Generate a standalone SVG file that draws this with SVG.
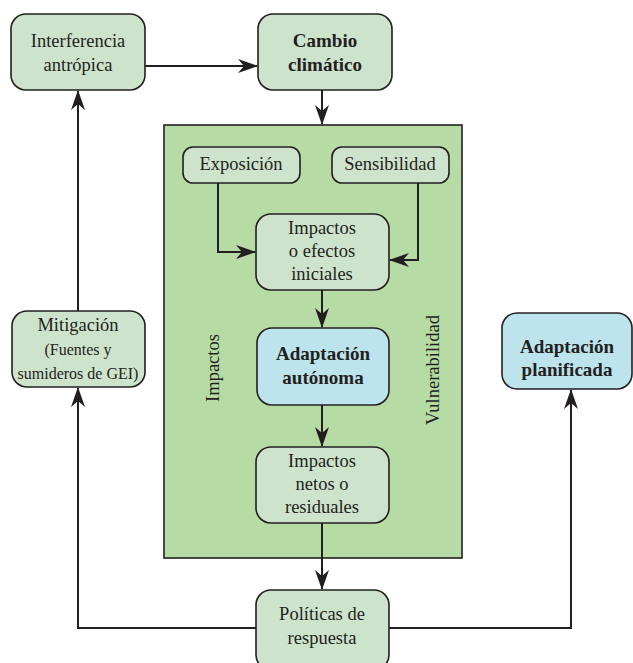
<svg xmlns="http://www.w3.org/2000/svg" width="633" height="663" viewBox="0 0 633 663">
<style>
.box{fill:#cde3cc;stroke:#231f20;stroke-width:1.6}
.blue{fill:#bde4ec;stroke:#231f20;stroke-width:1.6}
.t{font-family:"Liberation Serif","DejaVu Serif",serif;font-size:18.5px;fill:#231f20;text-anchor:middle}
.b{font-weight:bold;font-size:19px}
.sm{font-size:16px}
.ln{fill:none;stroke:#231f20;stroke-width:2}
</style>
<defs>
<marker id="ah" viewBox="0 0 20 14" refX="19" refY="7" markerWidth="20" markerHeight="14" markerUnits="userSpaceOnUse" orient="auto">
<path d="M0,0 L20,7 L0,14 L6,7 z" fill="#231f20"/>
</marker>
</defs>
<rect id="zone" x="164" y="125" width="298" height="433" fill="#b6dba4" stroke="#231f20" stroke-width="1.6"/>
<text class="t" transform="translate(219,368) rotate(-90)">Impactos</text>
<text class="t" transform="translate(439,370) rotate(-90)">Vulnerabilidad</text>
<g id="connectors">
<line class="ln" x1="145" y1="66" x2="257" y2="66" marker-end="url(#ah)"/>
<line class="ln" x1="322" y1="90" x2="322" y2="124" marker-end="url(#ah)"/>
<polyline class="ln" points="218,183 218,252 255,252" marker-end="url(#ah)"/>
<polyline class="ln" points="418,183 418,260 390,260" marker-end="url(#ah)"/>
<line class="ln" x1="322" y1="290" x2="322" y2="327" marker-end="url(#ah)"/>
<line class="ln" x1="322" y1="405" x2="322" y2="446" marker-end="url(#ah)"/>
<line class="ln" x1="322" y1="523" x2="322" y2="589" marker-end="url(#ah)"/>
<polyline class="ln" points="256,628 78,628 78,388" marker-end="url(#ah)"/>
<polyline class="ln" points="389,628 571,628 571,390" marker-end="url(#ah)"/>
<line class="ln" x1="78" y1="311" x2="78" y2="91" marker-end="url(#ah)"/>
</g>
<g id="interferencia">
<rect class="box" x="11" y="14" width="134" height="76" rx="15"/>
<text class="t" x="78" y="47">Interferencia</text>
<text class="t" x="78" y="71">antrópica</text>
</g>
<g id="cambio">
<rect class="box" x="258" y="14" width="134" height="76" rx="15"/>
<text class="t b" x="325" y="47">Cambio</text>
<text class="t b" x="325" y="71">climático</text>
</g>
<g id="exposicion">
<rect class="box" x="183" y="147" width="117" height="36" rx="10"/>
<text class="t" x="241" y="170">Exposición</text>
</g>
<g id="sensibilidad">
<rect class="box" x="332" y="147" width="117" height="36" rx="10"/>
<text class="t" x="390" y="170">Sensibilidad</text>
</g>
<g id="impactos-iniciales">
<rect class="box" x="256" y="214" width="133" height="76" rx="15"/>
<text class="t" x="322" y="234">Impactos</text>
<text class="t" x="322" y="257">o efectos</text>
<text class="t" x="322" y="280">iniciales</text>
</g>
<g id="adaptacion-autonoma">
<rect class="blue" x="257" y="328" width="132" height="77" rx="15"/>
<text class="t b" x="323" y="360">Adaptación</text>
<text class="t b" x="323" y="384">autónoma</text>
</g>
<g id="impactos-netos">
<rect class="box" x="256" y="447" width="133" height="76" rx="15"/>
<text class="t" x="322" y="467">Impactos</text>
<text class="t" x="322" y="490">netos o</text>
<text class="t" x="322" y="513">residuales</text>
</g>
<g id="mitigacion">
<rect class="box" x="12" y="311" width="133" height="76" rx="15"/>
<text class="t" x="78" y="331">Mitigación</text>
<text class="t sm" x="78" y="355">(Fuentes y</text>
<text class="t sm" x="78" y="379">sumideros de GEI)</text>
</g>
<g id="adaptacion-planificada">
<rect class="blue" x="502" y="313" width="130" height="76" rx="15"/>
<text class="t b" x="567" y="353">Adaptación</text>
<text class="t b" x="567" y="376">planificada</text>
</g>
<g id="politicas">
<rect class="box" x="256" y="590" width="133" height="80" rx="15"/>
<text class="t" x="322" y="620">Políticas de</text>
<text class="t" x="322" y="644">respuesta</text>
</g>
</svg>
